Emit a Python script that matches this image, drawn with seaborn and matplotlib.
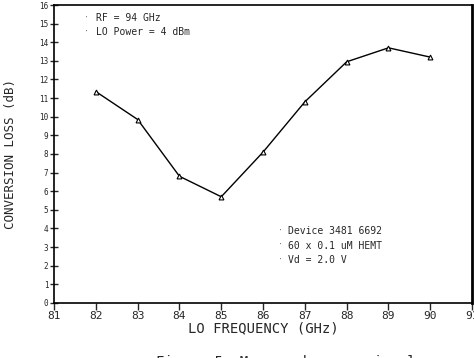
import matplotlib
matplotlib.use("Agg")
import matplotlib.pyplot as plt
import seaborn as sns
import pandas as pd

# data
lo_freq = [82, 83, 84, 85, 86, 87, 88, 89, 90]
conv_loss = [11.35, 9.85, 6.8, 5.7, 8.1, 10.8, 12.95, 13.7, 13.2]

x_ticks = list(range(81, 92))
y_ticks = list(range(0, 17))

notes_top = ["RF = 94 GHz", "LO Power = 4 dBm"]
notes_bottom = ["Device 3481 6692", "60 x 0.1 uM HEMT", "Vd = 2.0 V"]

df = pd.DataFrame({"freq": lo_freq, "loss": conv_loss})

sns.set_style("white")
plt.rcParams["font.family"] = ["DejaVu Sans Mono", "DejaVu Sans"]

fig = plt.figure(figsize=(4.74, 3.58), dpi=100)
ax = fig.add_axes([0.114, 0.154, 0.882, 0.832])

sns.lineplot(
    data=df,
    x="freq",
    y="loss",
    color="black",
    linewidth=1.0,
    marker="^",
    markersize=3.5,
    markerfacecolor="white",
    markeredgecolor="black",
    markeredgewidth=0.8,
    ax=ax,
)

ax.set_xlim(81, 91)
ax.set_ylim(0, 16)
ax.set_xticks(x_ticks)
ax.set_yticks(y_ticks)
ax.tick_params(axis="x", direction="out", length=5, width=1.0,
               labelsize=8, pad=1, bottom=True)
ax.tick_params(axis="y", direction="inout", length=6, width=1.0,
               labelsize=5.5, pad=1, left=True)

for side in ["left", "bottom", "top"]:
    ax.spines[side].set_color("black")
    ax.spines[side].set_linewidth(1.2)
ax.spines["right"].set_color("black")
ax.spines["right"].set_linewidth(2.0)

ax.set_xlabel("LO FREQUENCY (GHz)", fontsize=10, labelpad=0)
ax.set_ylabel("CONVERSION LOSS (dB)", fontsize=9, labelpad=16)

# annotations
for i, txt in enumerate(notes_top):
    y = 15.3 - i * 0.75
    ax.text(82.0, y, txt, fontsize=7, va="center", ha="left")
    ax.text(81.72, y, "·", fontsize=6, va="center", ha="left", color="gray")

for i, txt in enumerate(notes_bottom):
    y = 3.85 - i * 0.78
    ax.text(86.6, y, txt, fontsize=7, va="center", ha="left")
    ax.text(86.35, y, "·", fontsize=6, va="center", ha="left", color="gray")

# caption cut off at the bottom edge, as in the reference
fig.text(0.33, -0.012, "Figure 5. Measured conversion loss as a function",
         fontsize=10, ha="left", va="center")

fig.savefig("out.png", dpi=100)
